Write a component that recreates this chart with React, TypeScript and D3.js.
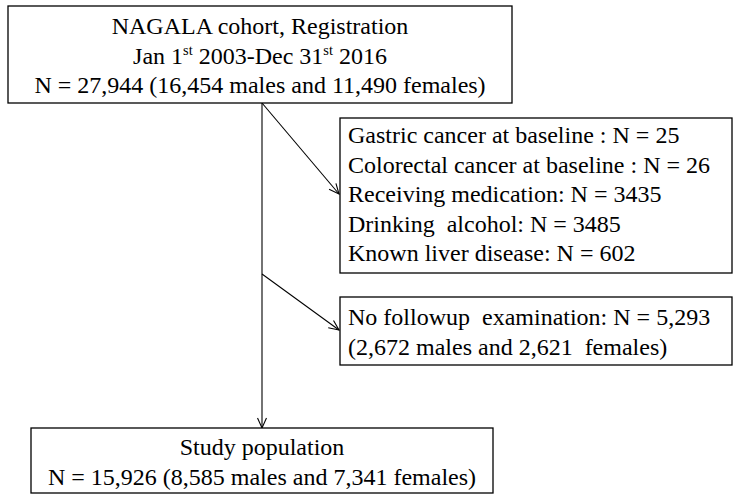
import React from "react";
import * as d3 from "d3";

// Flowchart content
const topLines: { text: string; sup?: boolean }[][] = [
  [{ text: "NAGALA cohort, Registration" }],
  [{ text: "Jan 1" }, { text: "st", sup: true }, { text: " 2003-Dec 31" }, { text: "st", sup: true }, { text: " 2016" }],
  [{ text: "N = 27,944 (16,454 males and 11,490 females)" }],
];
const exclusionLines1: string[] = [
  "Gastric cancer at baseline : N = 25",
  "Colorectal cancer at baseline : N = 26",
  "Receiving medication: N = 3435",
  "Drinking  alcohol: N = 3485",
  "Known liver disease: N = 602",
];
const exclusionLines2: string[] = [
  "No followup  examination: N = 5,293",
  "(2,672 males and 2,621  females)",
];
const studyLines: string[] = [
  "Study population",
  "N = 15,926 (8,585 males and 7,341 females)",
];

const W = 736;
const H = 504;
const FONT = "Liberation Serif";
const FS = 24;
const LH = 29.5;

// layout geometry (pixels)
const topBox = { x: 8, y: 6, w: 504, h: 97 };
const exBox1 = { x: 340, y: 118, w: 392, h: 155 };
const exBox2 = { x: 340, y: 297, w: 392, h: 68 };
const studyBox = { x: 31, y: 428, w: 462, h: 65 };
const stemX = 262;

export default function App() {
  const line = d3.line();
  const arrowHead = (x1: number, y1: number, x2: number, y2: number) => {
    const ang = Math.atan2(y2 - y1, x2 - x1);
    const len = 11;
    const spread = 0.42;
    const a = [x2 - len * Math.cos(ang - spread), y2 - len * Math.sin(ang - spread)] as [number, number];
    const b = [x2 - len * Math.cos(ang + spread), y2 - len * Math.sin(ang + spread)] as [number, number];
    return line([a, [x2, y2], b]) || "";
  };
  const diag1 = { x1: stemX, y1: topBox.y + topBox.h, x2: exBox1.x - 1, y2: 194 };
  const diag2 = { x1: stemX, y1: 274, x2: exBox2.x - 1, y2: 330 };
  const stem = { x1: stemX, y1: topBox.y + topBox.h, x2: stemX, y2: studyBox.y };

  const boxStyle = { fill: "#fff", stroke: "#000", strokeWidth: 1.3 };
  const topCx = topBox.x + topBox.w / 2;
  const studyCx = studyBox.x + studyBox.w / 2;
  const textStyle: React.CSSProperties = { fontFamily: FONT, fontSize: FS, whiteSpace: "pre" };

  return (
    <svg
      width={W}
      height={H}
      style={{ position: "absolute", left: 0, top: 0, background: "#fff" }}
    >
      <rect x={0} y={0} width={W} height={H} fill="#fff" />
      {/* connectors */}
      <g stroke="#000" strokeWidth={1.1} fill="none">
        <path d={line([[stem.x1, stem.y1], [stem.x2, stem.y2]]) || ""} />
        <path d={arrowHead(stem.x1, stem.y1, stem.x2, stem.y2)} />
        <path d={line([[diag1.x1, diag1.y1], [diag1.x2, diag1.y2]]) || ""} />
        <path d={arrowHead(diag1.x1, diag1.y1, diag1.x2, diag1.y2)} />
        <path d={line([[diag2.x1, diag2.y1], [diag2.x2, diag2.y2]]) || ""} />
        <path d={arrowHead(diag2.x1, diag2.y1, diag2.x2, diag2.y2)} />
      </g>

      {/* top box */}
      <rect x={topBox.x} y={topBox.y} width={topBox.w} height={topBox.h} {...boxStyle} />
      {topLines.map((segs, i) => (
        <text key={i} x={topCx} y={34 + i * LH} textAnchor="middle" fill="#000" style={textStyle}>
          {segs.map((s, j) =>
            s.sup ? (
              <tspan key={j} style={{ fontSize: FS * 0.6 }} dy={-9}>
                {s.text}
              </tspan>
            ) : (
              <tspan key={j} dy={j > 0 && segs[j - 1].sup ? 9 : 0}>
                {s.text}
              </tspan>
            )
          )}
        </text>
      ))}

      {/* exclusion box 1 */}
      <rect x={exBox1.x} y={exBox1.y} width={exBox1.w} height={exBox1.h} {...boxStyle} />
      {exclusionLines1.map((t, i) => (
        <text key={i} x={348} y={143 + i * LH} fill="#000" style={textStyle}>
          {t}
        </text>
      ))}

      {/* exclusion box 2 */}
      <rect x={exBox2.x} y={exBox2.y} width={exBox2.w} height={exBox2.h} {...boxStyle} />
      {exclusionLines2.map((t, i) => (
        <text key={i} x={348} y={325 + i * LH} fill="#000" style={textStyle}>
          {t}
        </text>
      ))}

      {/* study box */}
      <rect x={studyBox.x} y={studyBox.y} width={studyBox.w} height={studyBox.h} {...boxStyle} />
      {studyLines.map((t, i) => (
        <text key={i} x={studyCx} y={455 + i * LH} textAnchor="middle" fill="#000" style={textStyle}>
          {t}
        </text>
      ))}
    </svg>
  );
}
